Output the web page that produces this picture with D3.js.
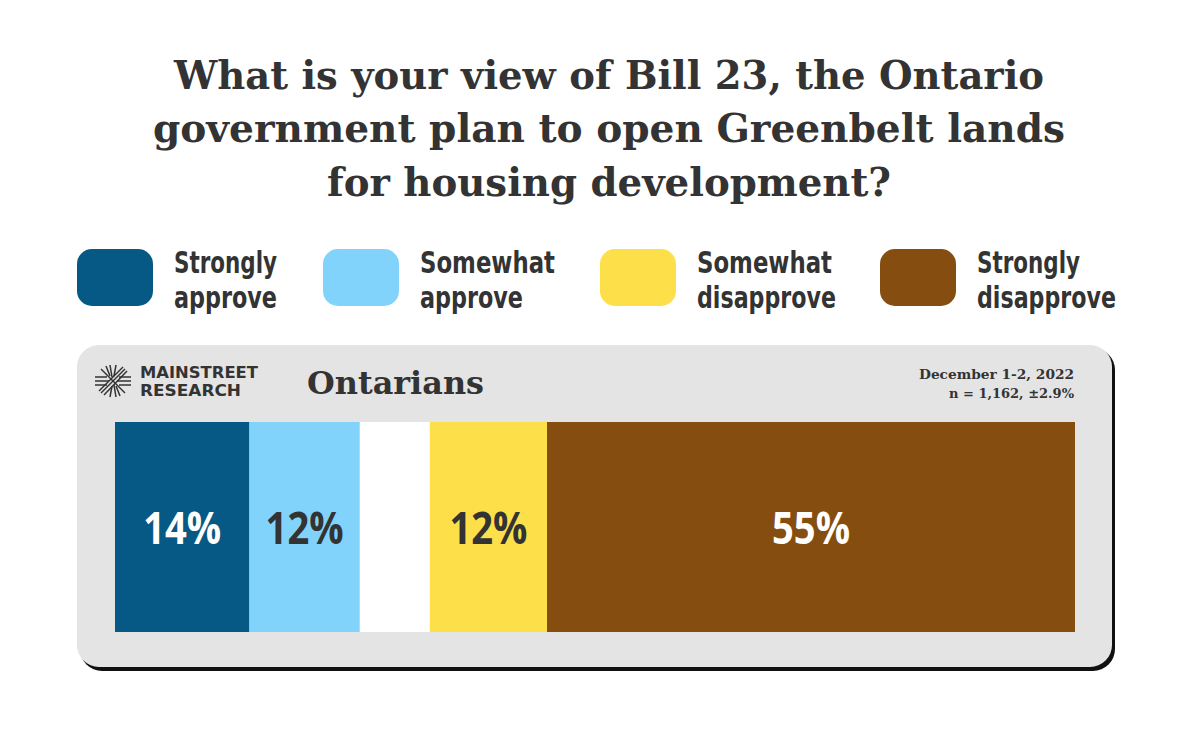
<!DOCTYPE html>
<html><head><meta charset="utf-8">
<script src="https://cdn.jsdelivr.net/npm/d3@7"></script>
<style>body{margin:0;background:#fff}svg{display:block}</style>
</head><body>
<script>
const categories = ["Strongly approve","Somewhat approve","Undecided","Somewhat disapprove","Strongly disapprove"];
const values = [14, 11.5, 7.3, 12.2, 55];
const labels = ["14%","12%","","12%","55%"];
const colors = ["#075985","#81d3fc","#ffffff","#fddf4a","#854d10"];
const labelColors = ["#ffffff","#333333","#333333","#333333","#ffffff"];
const legendItems = [["Strongly","approve"],["Somewhat","approve"],["Somewhat","disapprove"],["Strongly","disapprove"]];
const legendColors = ["#075985","#81d3fc","#fddf4a","#854d10"];
const titleLines = ["What is your view of Bill 23, the Ontario","government plan to open Greenbelt lands","for housing development?"];

const W=1200,H=750;
const svg=d3.select("body").append("svg").attr("width",W).attr("height",H);
svg.append("rect").attr("width",W).attr("height",H).attr("fill","#fff");

// title
const titleW=[870,912,564];
svg.selectAll("text.title").data(titleLines).join("text").attr("class","title")
  .attr("x",609).attr("y",(d,i)=>[89,142,196][i]).attr("text-anchor","middle")
  .attr("font-family","'DejaVu Serif', serif").attr("font-weight","bold").attr("font-size",39)
  .attr("fill","#333").attr("textLength",(d,i)=>titleW[i]).attr("lengthAdjust","spacingAndGlyphs")
  .text(d=>d);

// legend
const legX=[77,323,600,880];
const lenMap={"Strongly":103,"Somewhat":135,"approve":103,"disapprove":139};
const lg=svg.selectAll("g.leg").data(legendItems).join("g").attr("class","leg").attr("transform",(d,i)=>`translate(${legX[i]},249)`);
lg.append("rect").attr("width",76).attr("height",57).attr("rx",15).attr("fill",(d,i)=>legendColors[i]);
lg.each(function(d){
  const g=d3.select(this);
  d.forEach((s,j)=>{
    g.append("text").attr("x",97).attr("y",24+j*35)
      .attr("font-family","'DejaVu Sans', sans-serif").attr("font-stretch","condensed").attr("font-weight","bold").attr("font-size",29.5).attr("fill","#333")
      .attr("textLength",lenMap[s]).attr("lengthAdjust","spacingAndGlyphs").text(s);
  });
});

// panel
svg.append("rect").attr("x",80).attr("y",348).attr("width",1035).attr("height",323).attr("rx",22).attr("fill","#111");
svg.append("rect").attr("x",77).attr("y",345).attr("width",1035).attr("height",322).attr("rx",22).attr("fill","#e4e4e4");

// logo
const logo=svg.append("g").attr("transform","translate(113,381)").attr("stroke","#333").attr("stroke-width",1.5);
[[-18,0,-4,0],[-18,-4,-6,-4],[-18,4,-6,4],[4,0,18,0],[6,-4,18,-4],[6,4,18,4],
 [-12,12,12,-12],[-9,14,14,-10],[-14,10,10,-14],[-12,-12,12,12],
 [-3,-16,-1,-4],[1,4,3,16],[-7,-15,-3,-5],[3,5,7,15],[3,-16,1,-5],[-1,5,-3,16]].forEach(l=>{
  logo.append("line").attr("x1",l[0]).attr("y1",l[1]).attr("x2",l[2]).attr("y2",l[3]);
});
svg.append("text").attr("x",140).attr("y",378).attr("font-family","'DejaVu Sans', sans-serif").attr("font-weight","bold").attr("font-size",15.3).attr("fill","#333").attr("textLength",118).attr("lengthAdjust","spacingAndGlyphs").text("MAINSTREET");
svg.append("text").attr("x",140).attr("y",396).attr("font-family","'DejaVu Sans', sans-serif").attr("font-weight","bold").attr("font-size",15.3).attr("fill","#333").attr("textLength",101).attr("lengthAdjust","spacingAndGlyphs").text("RESEARCH");
svg.append("text").attr("x",307).attr("y",394).attr("font-family","'DejaVu Serif', serif").attr("font-weight","bold").attr("font-size",32).attr("fill","#333").attr("textLength",177).attr("lengthAdjust","spacingAndGlyphs").text("Ontarians");
svg.append("text").attr("text-anchor","end").attr("x",1074).attr("y",379).attr("font-family","'DejaVu Serif', serif").attr("font-weight","bold").attr("font-size",13.5).attr("fill","#333").attr("textLength",155).attr("lengthAdjust","spacingAndGlyphs").text("December 1-2, 2022");
svg.append("text").attr("text-anchor","end").attr("x",1074).attr("y",398).attr("font-family","'DejaVu Serif', serif").attr("font-weight","bold").attr("font-size",13.5).attr("fill","#333").attr("textLength",125).attr("lengthAdjust","spacingAndGlyphs").text("n = 1,162, ±2.9%");

// bar
const total=d3.sum(values);
const x=d3.scaleLinear().domain([0,total]).range([115,1075]);
const cum=[];values.reduce((a,v,i)=>{cum[i]=a;return a+v;},0);
const y=d3.scaleBand().domain(["Ontarians"]).range([422,632]);
const bars=svg.append("g");
bars.selectAll("rect").data(values).join("rect")
  .attr("x",(d,i)=>x(cum[i])).attr("width",(d,i)=>x(cum[i]+d)-x(cum[i]))
  .attr("y",y("Ontarians")).attr("height",y.bandwidth()).attr("fill",(d,i)=>colors[i]);
bars.selectAll("text").data(values).join("text")
  .attr("x",(d,i)=>(x(cum[i])+x(cum[i]+d))/2).attr("y",y("Ontarians")+y.bandwidth()/2+17)
  .attr("text-anchor","middle").attr("font-family","'Open Sans', sans-serif").attr("font-weight","bold")
  .attr("font-size",45).attr("fill",(d,i)=>labelColors[i])
  .attr("textLength",(d,i)=>labels[i]?78:null).attr("lengthAdjust","spacingAndGlyphs")
  .text((d,i)=>labels[i]);
</script>
</body></html>
